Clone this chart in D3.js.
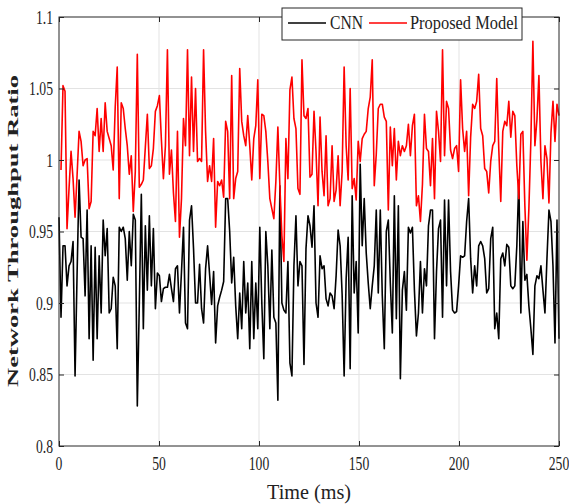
<!DOCTYPE html>
<html>
<head>
<meta charset="utf-8">
<script src="https://cdn.jsdelivr.net/npm/d3@7"></script>
<style>
  body { margin: 0; background: #fff; }
  text { font-family: "Liberation Serif", "DejaVu Serif", serif; fill: #222; }
</style>
</head>
<body>
<div id="chart"></div>
<script>
const width = 569;
const height = 504;
const margin = { left: 59, top: 17, right: 10, bottom: 58 };

const xTicks = [0, 50, 100, 150, 200, 250];
const yTicks = [0.8, 0.85, 0.9, 0.95, 1, 1.05, 1.1];
const seriesNames = ["CNN", "Proposed Model"];

// network throughput ratio, one value per ms
const cnn = [
  0.960,0.890,0.940,0.940,0.912,0.926,0.929,0.943,0.849,0.920,
  0.986,0.946,0.945,0.905,0.965,0.875,0.940,0.860,0.939,0.875,
  0.933,0.893,0.958,0.933,0.952,0.893,0.896,0.918,0.912,0.868,
  0.953,0.950,0.953,0.945,0.916,0.950,0.926,0.962,0.958,0.828,
  0.900,0.976,0.882,0.954,0.909,0.961,0.912,0.952,0.896,0.921,
  0.919,0.901,0.910,0.911,0.911,0.920,0.910,0.901,0.924,0.926,
  0.893,0.922,0.953,0.886,0.882,0.958,0.968,0.938,0.900,0.900,
  0.927,0.896,0.886,0.924,0.940,0.920,0.899,0.922,0.872,0.898,
  0.904,0.909,0.915,0.973,0.973,0.950,0.914,0.932,0.898,0.875,
  0.907,0.882,0.929,0.893,0.914,0.868,0.929,0.875,0.914,0.882,
  0.953,0.900,0.861,0.950,0.926,0.882,0.937,0.890,0.886,0.832,
  0.982,0.900,0.895,0.893,0.929,0.858,0.849,0.926,0.961,0.912,
  0.929,0.926,0.857,0.938,0.961,0.954,0.939,0.968,0.900,0.890,
  0.933,0.924,0.926,0.903,0.898,0.907,0.905,0.896,0.919,0.951,
  0.940,0.906,0.849,0.917,0.946,0.854,0.975,0.907,0.929,0.879,
  0.997,0.940,0.973,0.935,0.914,0.896,0.912,0.926,0.965,0.907,
  0.965,0.905,0.868,0.950,0.958,0.914,0.879,0.975,0.889,0.968,
  0.847,0.909,0.922,0.895,0.953,0.949,0.953,0.909,0.877,0.893,
  0.929,0.893,0.924,0.912,0.954,0.965,0.965,0.875,0.922,0.952,
  0.958,0.890,0.972,0.912,0.972,0.922,0.895,0.893,0.894,0.912,
  0.933,0.932,0.933,0.957,0.973,0.931,0.907,0.926,0.912,0.940,
  0.943,0.940,0.931,0.907,0.910,0.945,0.953,0.882,0.893,0.875,
  0.931,0.935,0.926,0.941,0.939,0.912,0.910,0.912,0.940,0.986,
  0.893,0.957,0.916,0.920,0.898,0.882,0.864,0.912,0.919,0.917,
  0.926,0.909,0.893,0.931,0.965,0.957,0.926,0.872,0.958,0.875
];

const proposed = [
  0.993,1.052,1.048,0.952,0.980,1.006,0.987,0.960,0.989,1.020,
  1.013,0.996,1.000,1.001,0.966,0.971,1.020,1.017,1.036,1.006,
  1.029,1.006,1.040,1.020,1.015,1.010,0.993,1.037,1.065,0.973,
  1.040,1.036,1.022,1.010,0.990,1.003,0.964,0.992,1.074,0.981,
  0.983,0.986,1.009,1.032,0.994,0.996,1.008,1.034,1.038,1.045,
  1.014,0.987,1.010,1.077,0.990,1.007,0.977,0.957,1.020,0.946,
  0.973,1.029,1.010,1.077,1.003,1.058,1.006,1.050,0.999,1.001,
  0.999,1.077,1.020,0.985,0.996,0.985,1.015,0.953,0.985,0.982,
  0.986,0.974,1.027,1.020,0.973,1.059,0.973,0.987,0.992,1.064,
  1.027,1.017,1.010,1.031,1.010,0.986,1.015,1.024,1.056,0.987,
  1.032,1.031,1.020,0.999,0.973,0.966,0.959,0.985,1.023,0.982,
  0.947,0.929,1.015,0.987,1.049,1.058,1.029,1.022,0.980,0.976,
  1.070,1.031,1.029,1.036,0.988,0.990,1.034,1.006,0.968,1.030,
  0.992,0.975,1.017,0.968,0.973,1.010,0.971,0.979,1.003,0.968,
  0.992,1.065,1.010,0.986,1.050,0.980,0.987,0.972,1.013,0.999,
  1.015,1.018,1.020,1.036,1.044,1.070,0.982,1.004,1.036,1.039,
  1.039,1.030,1.027,0.965,1.023,0.996,1.022,0.986,1.013,1.003,
  1.010,1.006,1.010,1.025,1.003,1.024,1.032,0.968,0.975,0.957,
  0.983,1.032,1.008,1.006,0.982,1.015,0.973,1.034,1.020,0.999,
  1.077,1.003,1.041,1.036,1.007,1.001,1.008,1.010,0.992,1.056,
  1.022,1.006,1.020,0.975,1.016,1.039,1.036,1.041,1.060,1.022,
  1.017,0.994,0.992,0.977,0.999,1.010,1.013,1.057,1.008,0.971,
  1.020,1.027,1.024,1.041,1.016,1.034,1.031,0.996,0.973,1.018,
  1.020,0.968,0.930,0.966,1.014,1.083,1.010,1.028,1.059,0.999,
  0.973,1.010,1.001,0.970,1.019,1.041,1.013,1.039,1.031
];

const colors = ["#000000", "#ff0000"];

const svg = d3.select("#chart").append("svg")
  .attr("width", width)
  .attr("height", height);

const x = d3.scaleLinear().domain([0, 250]).range([margin.left, width - margin.right]);
const y = d3.scaleLinear().domain([0.8, 1.1]).range([height - margin.bottom, margin.top]);

const x0 = x.range()[0], x1 = x.range()[1];
const y0 = y.range()[0], y1 = y.range()[1];

// grid
svg.append("g")
  .selectAll("line")
  .data(xTicks.slice(1, -1))
  .enter().append("line")
  .attr("x1", d => x(d)).attr("x2", d => x(d))
  .attr("y1", y1).attr("y2", y0)
  .attr("stroke", "#e3e3e3").attr("stroke-width", 1);

svg.append("g")
  .selectAll("line")
  .data(yTicks.slice(1, -1))
  .enter().append("line")
  .attr("x1", x0).attr("x2", x1)
  .attr("y1", d => y(d)).attr("y2", d => y(d))
  .attr("stroke", "#e3e3e3").attr("stroke-width", 1);

// series; time samples spread evenly over the axis
const line = d3.line()
  .x(d => x(d[0]))
  .y(d => y(d[1]));

const cnnPts = cnn.map((v, i) => [i * 250 / (cnn.length - 1), v]);
const propPts = proposed.map((v, i) => [1 + i * 249 / (proposed.length - 1), v]);

[cnnPts, propPts].forEach((pts, k) => {
  svg.append("path")
    .datum(pts)
    .attr("fill", "none")
    .attr("stroke", colors[k])
    .attr("stroke-width", 1.6)
    .attr("stroke-linejoin", "round")
    .attr("d", line);
});

// axes with inward ticks on all four sides
const tickLen = 5;
const axisColor = "#262626";

svg.append("g")
  .attr("transform", `translate(0,${y0})`)
  .call(d3.axisBottom(x).tickValues(xTicks).tickSize(-tickLen).tickFormat(""))
  .call(g => g.select(".domain").remove());
svg.append("g")
  .attr("transform", `translate(0,${y1})`)
  .call(d3.axisTop(x).tickValues(xTicks).tickSize(-tickLen).tickFormat(""))
  .call(g => g.select(".domain").remove());
svg.append("g")
  .attr("transform", `translate(${x0},0)`)
  .call(d3.axisLeft(y).tickValues(yTicks).tickSize(-tickLen).tickFormat(""))
  .call(g => g.select(".domain").remove());
svg.append("g")
  .attr("transform", `translate(${x1},0)`)
  .call(d3.axisRight(y).tickValues(yTicks).tickSize(-tickLen).tickFormat(""))
  .call(g => g.select(".domain").remove());
svg.selectAll(".tick line").attr("stroke", axisColor);

svg.append("rect")
  .attr("x", x0).attr("y", y1)
  .attr("width", x1 - x0).attr("height", y0 - y1)
  .attr("fill", "none")
  .attr("stroke", axisColor)
  .attr("stroke-width", 1);

// tick labels (narrow, like the squeezed original)
const sx = 0.72;
svg.append("g")
  .selectAll("text")
  .data(xTicks)
  .enter().append("text")
  .attr("transform", d => `translate(${x(d)},${y0 + 24}) scale(${sx},1)`)
  .attr("text-anchor", "middle")
  .style("font-size", "19px")
  .text(d => d);

svg.append("g")
  .selectAll("text")
  .data(yTicks)
  .enter().append("text")
  .attr("transform", d => `translate(${x0 - 6},${y(d) + 6.5}) scale(${sx},1)`)
  .attr("text-anchor", "end")
  .style("font-size", "19px")
  .text(d => d3.format("")(+d.toFixed(2)));

// axis titles
svg.append("text")
  .attr("x", 309).attr("y", 499)
  .attr("text-anchor", "middle")
  .attr("textLength", 84)
  .attr("lengthAdjust", "spacingAndGlyphs")
  .style("font-size", "22px")
  .text("Time (ms)");

svg.append("text")
  .attr("transform", "translate(18,231) rotate(-90) scale(1,0.78)")
  .attr("text-anchor", "middle")
  .attr("textLength", 312)
  .attr("lengthAdjust", "spacingAndGlyphs")
  .style("font-size", "18px")
  .style("font-weight", "bold")
  .text("Network Throughput Ratio");

// legend
const legend = svg.append("g");
legend.append("rect")
  .attr("x", 282).attr("y", 8)
  .attr("width", 240).attr("height", 32)
  .attr("fill", "#fff")
  .attr("stroke", axisColor)
  .attr("stroke-width", 1);

const legendItems = [
  { lx: 288, tx: 330, tw: 33 },
  { lx: 369, tx: 410, tw: 108 }
];
legendItems.forEach((it, k) => {
  legend.append("line")
    .attr("x1", it.lx).attr("x2", it.lx + 38)
    .attr("y1", 23).attr("y2", 23)
    .attr("stroke", colors[k])
    .attr("stroke-width", 1.6);
  legend.append("text")
    .attr("x", it.tx).attr("y", 29)
    .attr("textLength", it.tw)
    .attr("lengthAdjust", "spacingAndGlyphs")
    .style("font-size", "18px")
    .text(seriesNames[k]);
});
</script>
</body>
</html>
